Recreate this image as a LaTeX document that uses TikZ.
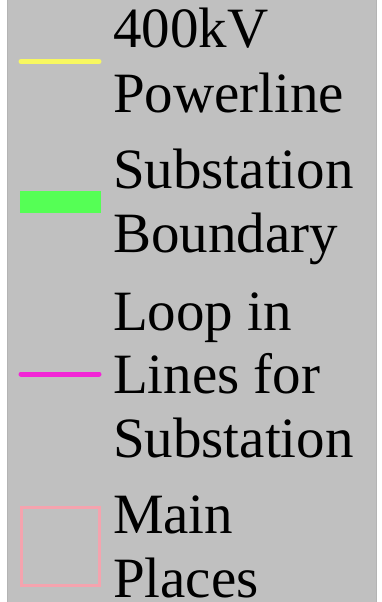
\documentclass[tikz,border=0pt]{standalone}
\usepackage{fontspec}
\setmainfont{Liberation Serif}
\definecolor{bg}{HTML}{C0C0C0}
\definecolor{edgegray}{HTML}{B4B4B4}
\definecolor{pwr}{HTML}{F8F860}
\definecolor{subgreen}{HTML}{55FF55}
\definecolor{loopmag}{HTML}{F226D6}
\definecolor{placepink}{HTML}{F5A3AE}
\begin{document}
\begin{tikzpicture}[x=1pt,y=-1pt,
  lbl/.style={anchor=base west,inner sep=0pt,outer sep=0pt,font=\fontsize{57}{64}\selectfont,text=black},
  legline/.style={line width=5pt,line cap=round}]
\useasboundingbox (0,0) rectangle (381,602);
\fill[white] (0,0) rectangle (381,602);
\fill[bg] (8,0) rectangle (376,602);
\draw[edgegray,line width=0.8pt] (7.6,0) -- (7.6,602);
\draw[edgegray,line width=0.8pt] (376.4,0) -- (376.4,602);
% symbols
\draw[legline,pwr] (21,61.5) -- (99,61.5);
\fill[subgreen] (20,191) rectangle (101,213);
\draw[legline,loopmag] (21,374) -- (99,374);
\draw[placepink,line width=3pt] (21,507) rectangle (99,585);
% labels
\node[lbl] (t1a) at (113,48) {400kV};
\node[lbl] (t1b) at (113,112) {Powerline};
\node[lbl] (t2a) at (113,188) {Substation};
\node[lbl] (t2b) at (113,252) {Boundary};
\node[lbl] (t3a) at (113,330) {Loop in};
\node[lbl] (t3b) at (113,393) {Lines for};
\node[lbl] (t3c) at (113,457) {Substation};
\node[lbl] (t4a) at (113,533) {Main};
\node[lbl] (t4b) at (113,597) {Places};
\end{tikzpicture}
\end{document}
